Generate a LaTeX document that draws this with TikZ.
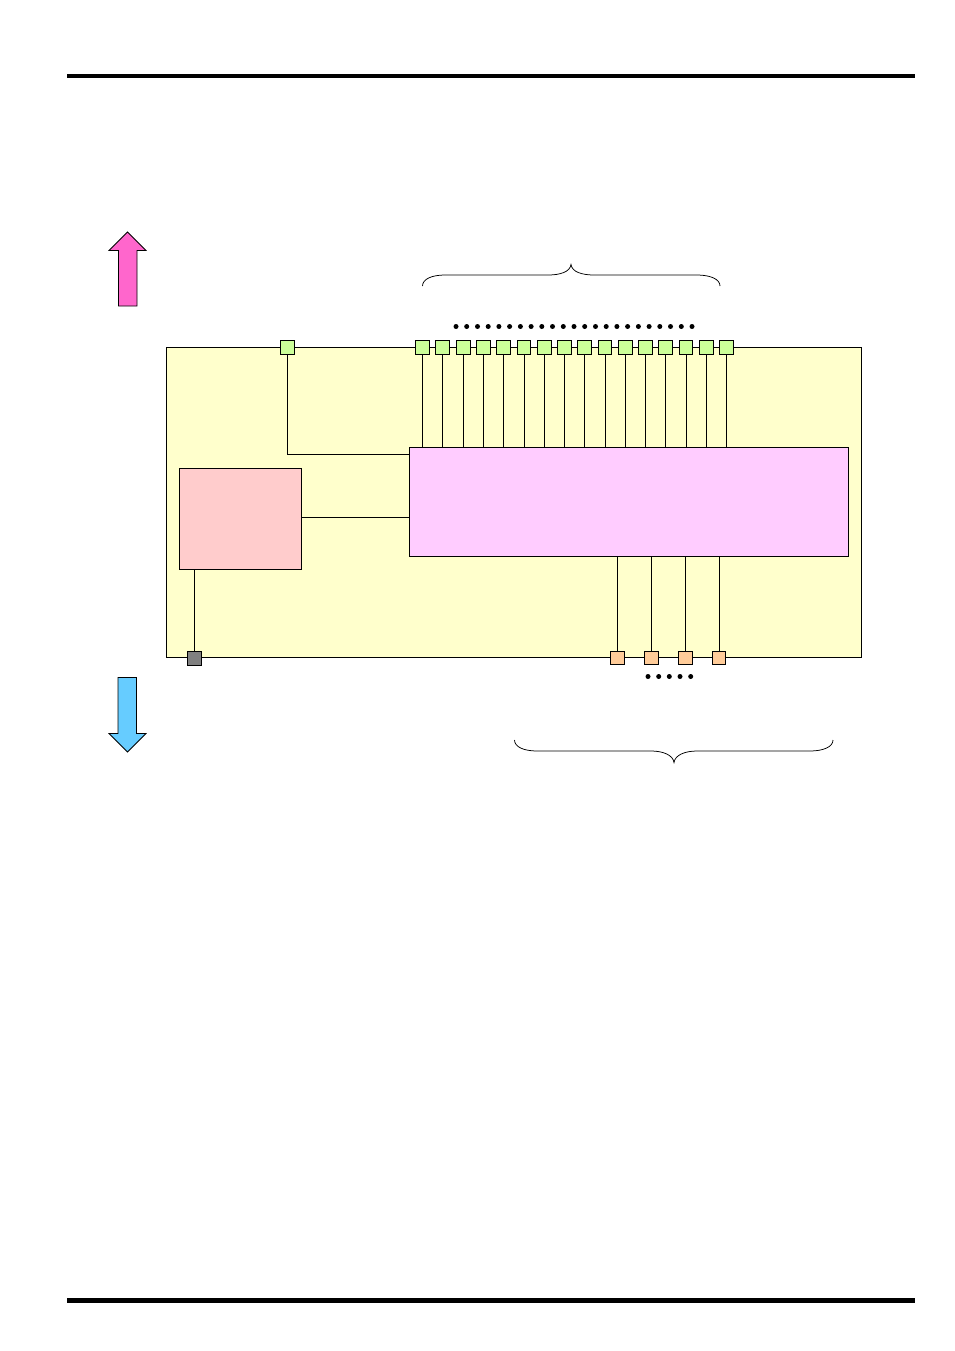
\documentclass[tikz,border=0pt]{standalone}
\usepackage{tikz}
\definecolor{bgBoard}{HTML}{FFFFCC}
\definecolor{bgCore}{HTML}{FFCCFF}
\definecolor{bgCtrl}{HTML}{FFCCCC}
\definecolor{bgPortIn}{HTML}{CCFF99}
\definecolor{bgPortOut}{HTML}{FFCC99}
\definecolor{bgUp}{HTML}{FF66CC}
\definecolor{bgDown}{HTML}{66CCFF}
\begin{document}
\begin{tikzpicture}[x=1pt,y=-1pt,line width=0.75pt]
 \tikzset{
  ruleLine/.style={line width=4pt},
  bigBox/.style={rectangle,draw=black,inner sep=0pt},
  portIn/.style={rectangle,draw=black,fill=bgPortIn,inner sep=0pt,minimum size=13.5pt},
  portOut/.style={rectangle,draw=black,fill=bgPortOut,inner sep=0pt,minimum size=13.5pt},
  portGnd/.style={rectangle,draw=black,fill=gray,inner sep=0pt,minimum size=14pt},
  moreDot/.style={circle,fill=black,inner sep=0pt,minimum size=5pt}
  }
  \useasboundingbox (0,0) rectangle (954,1351);
  % page rules
  \draw[ruleLine] (67,76) -- (915,76);
  \draw[ruleLine,line width=4.8pt] (67,1300.5) -- (915,1300.5);

  % the direction arrows
  \draw[fill=bgUp] (127.5,232) -- (146,250.5) -- (137,250.5) -- (137,306) -- (118.5,306) -- (118.5,250.5) -- (109,250.5) -- cycle;
  \draw[fill=bgDown] (127.5,752) -- (146,733.5) -- (136.5,733.5) -- (136.5,677.5) -- (118,677.5) -- (118,733.5) -- (109,733.5) -- cycle;

  % the boxes
  \node[bigBox,fill=bgBoard,minimum width=695pt,minimum height=309.5pt] (board) at (514,502.25) {};
  \node[bigBox,fill=bgCore,minimum width=439pt,minimum height=108.5pt] (core) at (629,501.75) {};
  \node[bigBox,fill=bgCtrl,minimum width=122pt,minimum height=101pt] (ctrl) at (240.5,519) {};

  % upper ports
  \node[portIn] (pA) at (287.5,347.5) {};
  \node[portIn] (p1) at (422.5,347.5) {};
  \node[portIn] (p2) at (442.5,347.5) {};
  \node[portIn] (p3) at (463.5,347.5) {};
  \node[portIn] (p4) at (483.5,347.5) {};
  \node[portIn] (p5) at (503.5,347.5) {};
  \node[portIn] (p6) at (524,347.5) {};
  \node[portIn] (p7) at (544.5,347.5) {};
  \node[portIn] (p8) at (564.5,347.5) {};
  \node[portIn] (p9) at (584.5,347.5) {};
  \node[portIn] (p10) at (605,347.5) {};
  \node[portIn] (p11) at (625.5,347.5) {};
  \node[portIn] (p12) at (645.5,347.5) {};
  \node[portIn] (p13) at (665.5,347.5) {};
  \node[portIn] (p14) at (686,347.5) {};
  \node[portIn] (p15) at (706.5,347.5) {};
  \node[portIn] (p16) at (726.5,347.5) {};

  % lower ports
  \node[portGnd] (g) at (194.5,658) {};
  \node[portOut] (q1) at (617.5,658) {};
  \node[portOut] (q2) at (651.5,658) {};
  \node[portOut] (q3) at (685.5,658) {};
  \node[portOut] (q4) at (719,658) {};

  % helper points on the bus lines
  \coordinate (cA) at (287.5,454.5);
  \coordinate (cB) at (356,517);

  % connections
  \draw (pA) -- (cA) -- (core.west |- cA);
  \draw (ctrl.east |- cB) -- (core.west |- cB);
  \draw (g) -- (ctrl.south -| g);
  \draw (p1) -- (p1 |- core.north);
  \draw (p2) -- (p2 |- core.north);
  \draw (p3) -- (p3 |- core.north);
  \draw (p4) -- (p4 |- core.north);
  \draw (p5) -- (p5 |- core.north);
  \draw (p6) -- (p6 |- core.north);
  \draw (p7) -- (p7 |- core.north);
  \draw (p8) -- (p8 |- core.north);
  \draw (p9) -- (p9 |- core.north);
  \draw (p10) -- (p10 |- core.north);
  \draw (p11) -- (p11 |- core.north);
  \draw (p12) -- (p12 |- core.north);
  \draw (p13) -- (p13 |- core.north);
  \draw (p14) -- (p14 |- core.north);
  \draw (p15) -- (p15 |- core.north);
  \draw (p16) -- (p16 |- core.north);
  \draw (q1) -- (q1 |- core.south);
  \draw (q2) -- (q2 |- core.south);
  \draw (q3) -- (q3 |- core.south);
  \draw (q4) -- (q4 |- core.south);

  % upper dots
  \node[moreDot] (d1) at (456,326.5) {};
  \node[moreDot] (d2) at (466.7,326.5) {};
  \node[moreDot] (d3) at (477.5,326.5) {};
  \node[moreDot] (d4) at (488.2,326.5) {};
  \node[moreDot] (d5) at (498.9,326.5) {};
  \node[moreDot] (d6) at (509.6,326.5) {};
  \node[moreDot] (d7) at (520.4,326.5) {};
  \node[moreDot] (d8) at (531.1,326.5) {};
  \node[moreDot] (d9) at (541.8,326.5) {};
  \node[moreDot] (d10) at (552.5,326.5) {};
  \node[moreDot] (d11) at (563.3,326.5) {};
  \node[moreDot] (d12) at (574,326.5) {};
  \node[moreDot] (d13) at (584.7,326.5) {};
  \node[moreDot] (d14) at (595.5,326.5) {};
  \node[moreDot] (d15) at (606.2,326.5) {};
  \node[moreDot] (d16) at (616.9,326.5) {};
  \node[moreDot] (d17) at (627.6,326.5) {};
  \node[moreDot] (d18) at (638.4,326.5) {};
  \node[moreDot] (d19) at (649.1,326.5) {};
  \node[moreDot] (d20) at (659.8,326.5) {};
  \node[moreDot] (d21) at (670.5,326.5) {};
  \node[moreDot] (d22) at (681.3,326.5) {};
  \node[moreDot] (d23) at (692,326.5) {};

  % lower dots
  \node[moreDot] (e1) at (648,676.5) {};
  \node[moreDot] (e2) at (658.7,676.5) {};
  \node[moreDot] (e3) at (669.3,676.5) {};
  \node[moreDot] (e4) at (680,676.5) {};
  \node[moreDot] (e5) at (690.7,676.5) {};

  % the braces
  \draw (422.5,286) .. controls (422.5,279) and (432,275) .. (445,275) -- (548,275)
    .. controls (560,275) and (570,272) .. (571,264.5)
    .. controls (572,272) and (582,275) .. (594,275) -- (697,275)
    .. controls (710,275) and (720,279) .. (720,286);
  \draw (514.5,740) .. controls (514.5,747) and (524,751) .. (537,751) -- (651,751)
    .. controls (663,751) and (673,755) .. (674,762.5)
    .. controls (675,755) and (685,751) .. (697,751) -- (810,751)
    .. controls (823,751) and (833,747) .. (833,740);
\end{tikzpicture}
\end{document}
